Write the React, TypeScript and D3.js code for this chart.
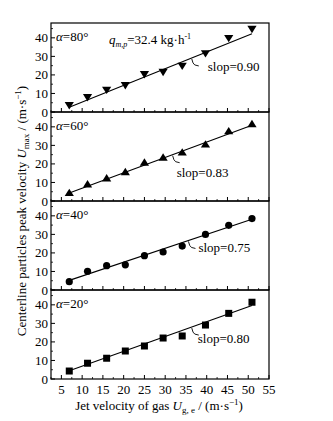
import React from "react";
import * as d3 from "d3";

const xValues = [6.9, 11.3, 15.9, 20.4, 25.0, 29.5, 34.1, 39.7, 45.3, 50.9];
const angles = ["80", "60", "40", "20"];
const markers = ["tri-down", "tri-up", "circle", "square"];
const series80 = [3.5, 7.8, 11.8, 14.3, 20.2, 21.4, 24.7, 31.5, 39.7, 44.6];
const series60 = [4.5, 9.2, 12.4, 15.8, 20.9, 23.6, 26.4, 30.7, 37.8, 41.7];
const series40 = [4.5, 10.1, 13.1, 13.6, 18.5, 20.5, 23.7, 30.0, 34.9, 38.5];
const series20 = [4.3, 8.5, 11.2, 15.1, 17.8, 22.1, 23.2, 29.1, 35.4, 41.4];
const slopes = [0.9, 0.83, 0.75, 0.8];
const slopeLabels = ["0.90", "0.83", "0.75", "0.80"];
const intercepts = [2.6, 4.3, 5.2, 4.4]; // fit value at first x
const annotX = [36.4, 31.8, 35.6, 36.4]; // x value where leader touches fit line
const xTicks = [5, 10, 15, 20, 25, 30, 35, 40, 45, 50, 55];
const yTicks = [0, 10, 20, 30, 40];

const FONT = '"Liberation Serif", "Times New Roman", "DejaVu Serif", serif';

export default function App() {
  const W = 333, H = 421;
  const left = 51, right = 269, top = 23, panelH = 89;
  const x = d3.scaleLinear().domain([2.5, 55]).range([left, right]);
  const allSeries = [series80, series60, series40, series20];
  const minorX = d3.range(2.5, 55.01, 2.5).filter((v) => v % 5 !== 0);
  const minorY = [5, 15, 25, 35, 45];
  const textOff = [[16, 13], [4, 22], [10, 12], [6, 16]];

  const marker = (type: string, cx: number, cy: number, key: number) => {
    if (type === "circle") return <circle key={key} cx={cx} cy={cy} r={3.6} fill="#000" />;
    if (type === "square") return <rect key={key} x={cx - 3.5} y={cy - 3.5} width={7} height={7} fill="#000" />;
    const s = 4.6;
    if (type === "tri-down")
      return <path key={key} d={`M${cx - s},${cy - s * 0.75}L${cx + s},${cy - s * 0.75}L${cx},${cy + s * 0.85}Z`} fill="#000" />;
    return <path key={key} d={`M${cx - s},${cy + s * 0.75}L${cx + s},${cy + s * 0.75}L${cx},${cy - s * 0.85}Z`} fill="#000" />;
  };

  return (
    <svg width={W} height={H} style={{ position: "absolute", left: 0, top: 0, background: "#fff", fontFamily: FONT }}>
      <rect width={W} height={H} fill="#fff" />
      {allSeries.map((vals, i) => {
        const y0 = top + i * panelH;
        const y = d3.scaleLinear().domain([0, 48]).range([y0 + panelH, y0]);
        const x0v = xValues[0], x1v = xValues[xValues.length - 1];
        const fit = (v: number) => intercepts[i] + slopes[i] * (v - x0v);
        const line = d3.line<number>().x((v) => x(v)).y((v) => y(fit(v)));
        const ax = x(annotX[i]), ay = y(fit(annotX[i]));
        return (
          <g key={i}>
            <rect x={left} y={y0} width={right - left} height={panelH} fill="none" stroke="#000" strokeWidth={1.2} />
            {yTicks.map((t) => (
              <g key={t}>
                <line x1={left} x2={left + 4} y1={y(t)} y2={y(t)} stroke="#000" strokeWidth={1} />
                <text x={left - 3} y={y(t) + 4.5} fontSize={13} textAnchor="end" fill="#000">{t}</text>
              </g>
            ))}
            {minorY.map((t) => (
              <line key={"m" + t} x1={left} x2={left + 2} y1={y(t)} y2={y(t)} stroke="#000" strokeWidth={0.8} />
            ))}
            {xTicks.map((t) => (
              <line key={"x" + t} x1={x(t)} x2={x(t)} y1={y0 + panelH} y2={y0 + panelH - 4} stroke="#000" strokeWidth={1} />
            ))}
            {minorX.map((t) => (
              <line key={"xm" + t} x1={x(t)} x2={x(t)} y1={y0 + panelH} y2={y0 + panelH - 2} stroke="#000" strokeWidth={0.8} />
            ))}
            <path d={line([x0v, x1v]) || ""} stroke="#000" strokeWidth={1.1} fill="none" />
            {vals.map((v, j) => marker(markers[i], x(xValues[j]), y(v), j))}
            <path d={`M${ax},${ay + 1} Q${ax + 1},${ay + 6} ${ax + 3},${ay + 7} L${ax + 7},${ay + 8}`} stroke="#000" strokeWidth={0.9} fill="none" />
            <text x={ax + textOff[i][0]} y={ay + textOff[i][1]} fontSize={13} fill="#000">slop={slopeLabels[i]}</text>
            <text x={left + 5} y={y0 + 18} fontSize={13} fill="#000">
              <tspan fontStyle="italic">α</tspan>={angles[i]}°
            </text>
            {i === 0 && (
              <text x={109} y={y0 + 21} fontSize={13} fill="#000">
                <tspan fontStyle="italic">q</tspan>
                <tspan fontSize={8} fontStyle="italic" dy={3}>m,p</tspan>
                <tspan dy={-3}>=32.4 kg·h</tspan>
                <tspan fontSize={8} dy={-5}>-1</tspan>
              </text>
            )}
            {i === allSeries.length - 1 &&
              xTicks.map((t) => (
                <text key={"xl" + t} x={x(t)} y={y0 + panelH + 15} fontSize={13} textAnchor="middle" fill="#000">{t}</text>
              ))}
          </g>
        );
      })}
      <text x={(left + right) / 2 - 1} y={410} fontSize={13} textAnchor="middle" fill="#000">
        Jet velocity of gas <tspan fontStyle="italic">U</tspan>
        <tspan fontSize={9} dy={3}>g, e</tspan>
        <tspan dy={-3}> / (m·s</tspan>
        <tspan fontSize={9} dy={-5}>−1</tspan>
        <tspan dy={5}>)</tspan>
      </text>
      <text transform={`translate(26,${211}) rotate(-90)`} fontSize={13} textAnchor="middle" fill="#000">
        Centerline particles peak velocity <tspan fontStyle="italic">U</tspan>
        <tspan fontSize={9} dy={3}>max</tspan>
        <tspan dy={-3}> / (m·s</tspan>
        <tspan fontSize={9} dy={-5}>−1</tspan>
        <tspan dy={5}>)</tspan>
      </text>
    </svg>
  );
}
